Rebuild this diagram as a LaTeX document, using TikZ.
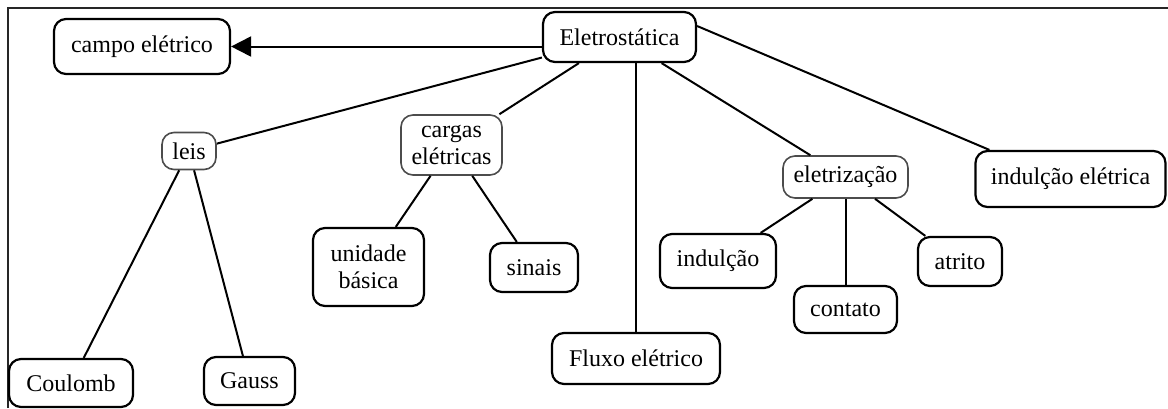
\documentclass[tikz,border=0pt]{standalone}
\usepackage{fontspec}
\setmainfont{Liberation Serif}
\usetikzlibrary{arrows.meta}

\begin{document}
\begin{tikzpicture}[x=0.5pt,y=0.5pt,yscale=-1,xscale=1,
        concept/.style={draw,rounded corners=6pt,line width=1.1pt,inner sep=0pt,align=center,font=\fontsize{12}{13.5}\selectfont},
        subconcept/.style={concept,draw=black!70,line width=0.8pt},
        link/.style={line width=1pt}]
        \useasboundingbox (0,0) rectangle (1168,408);
        \draw [line width=1pt,black!85] (8,408) -- (8,8) -- (1168,8) ;

        \node [concept,minimum width=76.5pt,minimum height=25pt] (eletro) at (619.5,37) {Eletrostática};
        \node [concept,minimum width=88pt,minimum height=27.5pt] (campo) at (142,46.5) {campo elétrico};
        \node [subconcept,minimum width=27pt,minimum height=18.5pt] (leis) at (189,151) {leis};
        \node [subconcept,minimum width=50.5pt,minimum height=30pt] (cargas) at (451.5,145) {cargas\\elétricas};
        \node [concept,minimum width=55.5pt,minimum height=39pt] (unidade) at (368.5,267) {unidade\\básica};
        \node [concept,minimum width=44pt,minimum height=24.5pt] (sinais) at (534,267.5) {sinais};
        \node [concept,minimum width=62pt,minimum height=24pt] (coulomb) at (71,383) {Coulomb};
        \node [concept,minimum width=45.5pt,minimum height=24pt] (gauss) at (249.5,381) {Gauss};
        \node [concept,minimum width=84pt,minimum height=25.5pt] (fluxo) at (636,358.5) {Fluxo elétrico};
        \node [subconcept,minimum width=62.5pt,minimum height=21pt] (eletrizacao) at (845.5,177) {eletrização};
        \node [concept,minimum width=58pt,minimum height=27pt] (indulcao) at (718,261) {indulção};
        \node [concept,minimum width=51.5pt,minimum height=23.5pt] (contato) at (845.5,309.5) {contato};
        \node [concept,minimum width=42pt,minimum height=24.5pt] (atrito) at (960,261.5) {atrito};
        \node [concept,minimum width=95pt,minimum height=28pt] (indeletrica) at (1070.5,179) {indulção elétrica};

        \draw [link,-{Triangle[length=10pt,width=10pt]}] (eletro.west |- campo.east) -- (campo.east) ;
        \draw [link] (eletro) -- (leis) ;
        \draw [link] (eletro) -- (cargas) ;
        \draw [link] (eletro.south -| fluxo.north) -- (fluxo.north) ;
        \draw [link] (eletro) -- (eletrizacao) ;
        \draw [link] ([yshift=-5.5pt]eletro.east) -- ([xshift=7.5pt]indeletrica.north west) ;
        \draw [link] (leis) -- (coulomb) ;
        \draw [link] (leis) -- (gauss) ;
        \draw [link] (cargas) -- (unidade) ;
        \draw [link] (cargas) -- (sinais) ;
        \draw [link] (eletrizacao) -- (indulcao) ;
        \draw [link] (eletrizacao) -- (contato) ;
        \draw [link] (eletrizacao) -- (atrito) ;
\end{tikzpicture}
\end{document}
